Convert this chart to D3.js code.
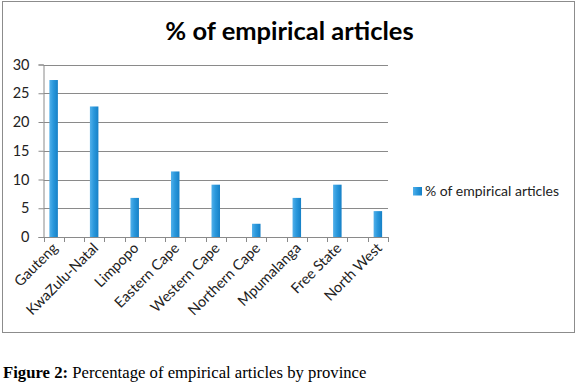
<!DOCTYPE html>
<html>
<head>
<meta charset="utf-8">
<script src="https://cdn.jsdelivr.net/npm/d3@7"></script>
<style>
  body { margin: 0; background: #fff; }
  svg { display: block; }
</style>
</head>
<body>
<svg id="chart"></svg>
<script>
(() => {
let provinces = ['Gauteng', 'KwaZulu-Natal', 'Limpopo', 'Eastern Cape', 'Western Cape',
                 'Northern Cape', 'Mpumalanga', 'Free State', 'North West'];
let percents = [27.3, 22.7, 6.8, 11.4, 9.1, 2.3, 6.8, 9.1, 4.5];
let yTicks = [0, 5, 10, 15, 20, 25, 30];
let seriesName = '% of empirical articles';
let titleText = '% of empirical articles';

let width = 580,
    height = 385,
    plotLeft = 43.5,
    plotRight = 388,
    plotTop = 64.5,
    plotBottom = 237,
    barWidth = 8.5,
    chartFont = 'Lato, "Open Sans", sans-serif';

let svg = d3.select('#chart')
    .attr('width', width)
    .attr('height', height);

let defs = svg.append('defs');
let grad = defs.append('linearGradient')
    .attr('id', 'barGrad')
    .attr('x1', 0).attr('x2', 1).attr('y1', 0).attr('y2', 0);
grad.append('stop').attr('offset', '0%').attr('stop-color', '#52b0ea');
grad.append('stop').attr('offset', '45%').attr('stop-color', '#2a98dc');
grad.append('stop').attr('offset', '100%').attr('stop-color', '#1680c6');

// chart frame
svg.append('rect')
    .attr('x', 2.5).attr('y', 1.5)
    .attr('width', 572).attr('height', 331)
    .attr('fill', '#fff')
    .attr('stroke', '#8c8c8c')
    .attr('stroke-width', 1);

let x = d3.scalePoint()
    .domain(provinces)
    .range([plotLeft, plotRight])
    .padding(0.25);

let y = d3.scaleLinear()
    .domain([0, 30])
    .range([plotBottom, plotTop]);

// gridlines
svg.append('g')
    .selectAll('line')
    .data(yTicks.filter(d => d > 0))
    .enter()
    .append('line')
    .attr('x1', plotLeft).attr('x2', plotRight)
    .attr('y1', d => Math.round(y(d)) + 0.5)
    .attr('y2', d => Math.round(y(d)) + 0.5)
    .attr('stroke', '#8a8a8a')
    .attr('stroke-width', 1);

// y axis
let yAxis = d3.axisLeft(y)
    .tickValues(yTicks)
    .tickSize(5)
    .tickPadding(9);

let gy = svg.append('g')
    .attr('transform', `translate(${plotLeft},0)`)
    .call(yAxis);
gy.select('.domain').attr('stroke', '#8a8a8a');
gy.selectAll('.tick line').attr('stroke', '#8a8a8a');
gy.selectAll('text')
    .attr('font-family', chartFont)
    .attr('font-size', 14.5)
    .attr('fill', '#222');

// bars
svg.append('g')
    .selectAll('rect')
    .data(percents)
    .enter()
    .append('rect')
    .attr('x', (d, i) => x(provinces[i]) - barWidth / 2)
    .attr('y', d => y(d))
    .attr('width', barWidth)
    .attr('height', d => plotBottom - y(d))
    .attr('fill', 'url(#barGrad)');

// x axis line and half-category tick marks
let slot = d3.scaleLinear()
    .domain([0, provinces.length * 2 - 1])
    .range([plotLeft, plotRight]);

svg.append('line')
    .attr('x1', plotLeft).attr('x2', plotRight)
    .attr('y1', plotBottom + 0.5).attr('y2', plotBottom + 0.5)
    .attr('stroke', '#8a8a8a');

svg.append('g')
    .selectAll('line')
    .data(d3.range(provinces.length * 2))
    .enter()
    .append('line')
    .attr('x1', d => Math.round(slot(d)) + 0.5)
    .attr('x2', d => Math.round(slot(d)) + 0.5)
    .attr('y1', plotBottom)
    .attr('y2', plotBottom + 5)
    .attr('stroke', '#8a8a8a');

// category labels
svg.append('g')
    .selectAll('text')
    .data(provinces)
    .enter()
    .append('text')
    .text(d => d)
    .attr('transform', d => `translate(${x(d) + 5},${plotBottom + 12}) rotate(-45)`)
    .attr('text-anchor', 'end')
    .attr('font-family', chartFont)
    .attr('font-size', 14.5)
    .attr('fill', '#222');

// title
svg.append('text')
    .text(titleText)
    .attr('x', 289.5)
    .attr('y', 39.5)
    .attr('text-anchor', 'middle')
    .attr('font-family', chartFont)
    .attr('font-weight', 'bold')
    .attr('font-size', 25.5)
    .attr('fill', '#000');

// legend
let legend = svg.append('g')
    .attr('transform', 'translate(413,187)');
legend.append('rect')
    .attr('width', 9).attr('height', 8.5)
    .attr('fill', 'url(#barGrad)');
legend.append('text')
    .text(seriesName)
    .attr('x', 12)
    .attr('y', 8.5)
    .attr('font-family', chartFont)
    .attr('font-size', 14)
    .attr('fill', '#222');

// caption
let caption = svg.append('text')
    .attr('x', 3)
    .attr('y', 378)
    .attr('font-family', '"Liberation Serif", "Times New Roman", serif')
    .attr('font-size', 16.7)
    .attr('fill', '#000');
caption.append('tspan').attr('font-weight', 'bold').text('Figure 2:');
caption.append('tspan').text(' Percentage of empirical articles by province');
})();
</script>
</body>
</html>
